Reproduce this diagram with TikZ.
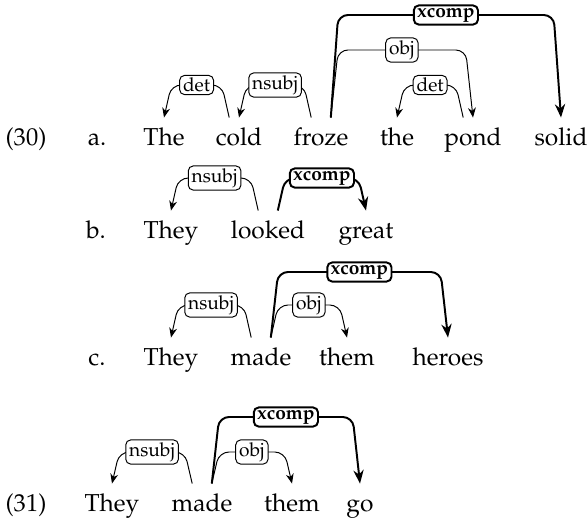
\documentclass[tikz,border=0pt]{standalone}
\usepackage[T1]{fontenc}
\usepackage{mathpazo}
\usepackage{tikz}
\usetikzlibrary{arrows.meta}
\tikzset{
  word/.style={anchor=base, inner sep=0pt, text height=11pt, font=\fontsize{10}{12}\selectfont},
  deplabel/.style={draw, fill=white, rounded corners=2pt, inner xsep=1.4pt, inner ysep=1pt, font=\fontsize{7.8}{9}\selectfont},
  depedge/.style={rounded corners=4pt, -{Stealth[length=4pt,width=3.2pt]}},
  depbold/.style={depedge, thick, -{Stealth[length=5.5pt,width=4.2pt]}},
}
\def\boldlabel{\bfseries xcomp}

\begin{document}
\begin{tikzpicture}[x=0.408pt,y=-0.408pt]
\useasboundingbox (0,0) rectangle (588,523);

% example (30a)
\begin{scope}
\node[word] (exA) at (26,145) {(30)};
\node[word] (itemA) at (97,145) {a.};
\node[word] (aThe) at (164,145) {The};
\node[word] (aCold) at (239,145) {cold};
\node[word] (aFroze) at (321,145) {froze};
\node[word] (aThe2) at (397,145) {the};
\node[word] (aPond) at (473,145) {pond};
\node[word] (aSolid) at (561,145) {solid};

\draw[depedge] ([xshift=-4pt]aCold.north) -- ([xshift=-7pt]aCold.north |- 0,85)
-- node[deplabel] {det} ([xshift=3pt]aThe.north |- 0,85) -- (aThe.north);
\draw[depedge] ([xshift=-4pt]aFroze.north) -- ([xshift=-7pt]aFroze.north |- 0,85)
-- node[deplabel] {nsubj} ([xshift=3pt]aCold.north |- 0,85) -- (aCold.north);
\draw[depbold] ([xshift=4pt]aFroze.north) -- ([xshift=7pt]aFroze.north |- 0,15)
-- node[deplabel] {\boldlabel} ([xshift=-3pt]aSolid.north |- 0,15) -- (aSolid.north);
\draw[depedge] ([xshift=4pt]aFroze.north) -- ([xshift=7pt]aFroze.north |- 0,50)
-- node[deplabel] {obj} ([xshift=-3pt]aPond.north |- 0,50) -- (aPond.north);
\draw[depedge] ([xshift=-4pt]aPond.north) -- ([xshift=-7pt]aPond.north |- 0,85)
-- node[deplabel] {det} ([xshift=3pt]aThe2.north |- 0,85) -- (aThe2.north);
\end{scope}

% example (30b)
\begin{scope}
\node[word] (itemB) at (96,238) {b.};
\node[word] (bThey) at (171,238) {They};
\node[word] (bLooked) at (268,238) {looked};
\node[word] (bGreat) at (366,238) {great};

\draw[depedge] ([xshift=-4pt]bLooked.north) -- ([xshift=-7pt]bLooked.north |- 0,178)
-- node[deplabel] {nsubj} ([xshift=3pt]bThey.north |- 0,178) -- (bThey.north);
\draw[depbold] ([xshift=4pt]bLooked.north) -- ([xshift=7pt]bLooked.north |- 0,178)
-- node[deplabel] {\boldlabel} ([xshift=-3pt]bGreat.north |- 0,178) -- (bGreat.north);
\end{scope}

% example (30c)
\begin{scope}
\node[word] (itemC) at (97,365) {c.};
\node[word] (cThey) at (171,365) {They};
\node[word] (cMade) at (261,365) {made};
\node[word] (cThem) at (347,365) {them};
\node[word] (cHeroes) at (448,365) {heroes};

\draw[depedge] ([xshift=-4pt]cMade.north) -- ([xshift=-7pt]cMade.north |- 0,305)
-- node[deplabel] {nsubj} ([xshift=3pt]cThey.north |- 0,305) -- (cThey.north);
\draw[depbold] ([xshift=4pt]cMade.north) -- ([xshift=7pt]cMade.north |- 0,272)
-- node[deplabel] {\boldlabel} ([xshift=-3pt]cHeroes.north |- 0,272) -- (cHeroes.north);
\draw[depedge] ([xshift=4pt]cMade.north) -- ([xshift=7pt]cMade.north |- 0,305)
-- node[deplabel] {obj} ([xshift=-3pt]cThem.north |- 0,305) -- (cThem.north);
\end{scope}

% example (31)
\begin{scope}
\node[word] (exB) at (26,511) {(31)};
\node[word] (dThey) at (112,511) {They};
\node[word] (dMade) at (202,511) {made};
\node[word] (dThem) at (292,511) {them};
\node[word] (dGo) at (360,511) {go};

\draw[depedge] ([xshift=-4pt]dMade.north) -- ([xshift=-7pt]dMade.north |- 0,452)
-- node[deplabel] {nsubj} ([xshift=3pt]dThey.north |- 0,452) -- (dThey.north);
\draw[depbold] ([xshift=4pt]dMade.north) -- ([xshift=7pt]dMade.north |- 0,417)
-- node[deplabel] {\boldlabel} ([xshift=-3pt]dGo.north |- 0,417) -- (dGo.north);
\draw[depedge] ([xshift=4pt]dMade.north) -- ([xshift=7pt]dMade.north |- 0,452)
-- node[deplabel] {obj} ([xshift=-3pt]dThem.north |- 0,452) -- (dThem.north);
\end{scope}

\end{tikzpicture}
\end{document}
